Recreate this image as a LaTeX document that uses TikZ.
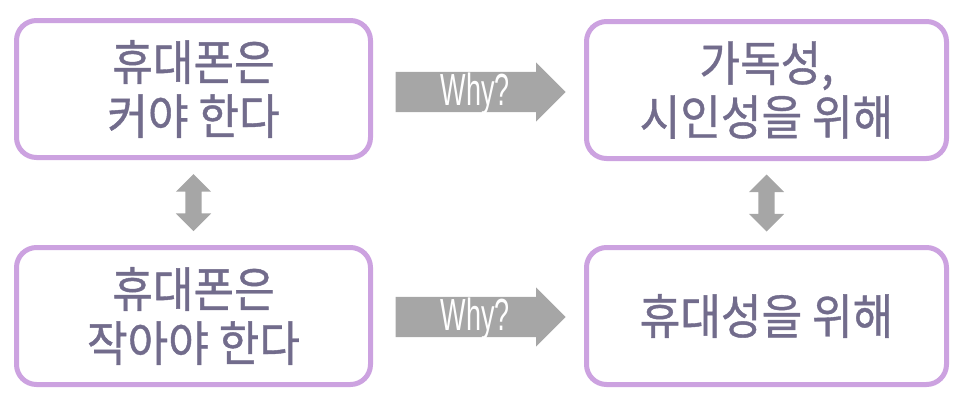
\documentclass[tikz,border=0pt]{standalone}
\usepackage{fontspec}
\newfontfamily\korfont[FakeStretch=0.92,FakeBold=0.8]{Noto Sans CJK KR}
\newfontfamily\whyfont[FakeStretch=0.6]{Liberation Sans}
\usepackage{xcolor}
\usetikzlibrary{shapes.arrows,calc}

\definecolor{boxline}{RGB}{204,162,224}
\definecolor{boxtext}{RGB}{114,108,140}
\definecolor{arrowgray}{RGB}{166,166,166}

\begin{document}
\begin{tikzpicture}[x=1pt,y=-1pt,
  box/.style={draw=boxline,line width=5pt,rounded corners=20pt,fill=white,
    minimum width=354pt,minimum height=137pt,align=center,text=boxtext,
    font=\korfont\fontsize{48}{54}\selectfont,inner sep=0pt},
  whyarrow/.style={single arrow,fill=arrowgray,minimum height=170pt,
    single arrow head extend=9.5pt,inner xsep=0pt,inner ysep=20pt,anchor=tail},
  swaparrow/.style={double arrow,fill=arrowgray,rotate=90,minimum height=57pt,
    double arrow head extend=9.5pt,inner xsep=0pt,inner ysep=8pt},
  whylabel/.style={text=white,font=\whyfont\fontsize{45}{45}\selectfont,inner sep=0pt}
]
\useasboundingbox (0,0) rectangle (959,400);

\node[box] (big) at (193.5,89) {휴대폰은\\커야 한다};
\node[box] (small) at (193.5,316) {휴대폰은\\작아야 한다};
\node[box,minimum width=360pt] (readable) at (766.5,90) {가독성,\\시인성을 위해};
\node[box,minimum width=360pt] (portable) at (766.5,316) {휴대성을 위해};

\node[whyarrow] (whytop) at ($(big.east)+(22.5,3)$) {};
\node[whyarrow] (whybottom) at ($(small.east)+(22.5,1)$) {};
\node[whylabel,anchor=base] (whytoptext) at ($(whytop.tail)+(80,13)$) {Why?};
\node[whylabel,anchor=base] (whybottomtext) at ($(whybottom.tail)+(80,13)$) {Why?};

\node[swaparrow] (swapleft) at ($(big.south)!0.5!(small.north)$) {};
\node[swaparrow] (swapright) at ($(readable.south)!0.5!(portable.north)$) {};
\end{tikzpicture}
\end{document}
